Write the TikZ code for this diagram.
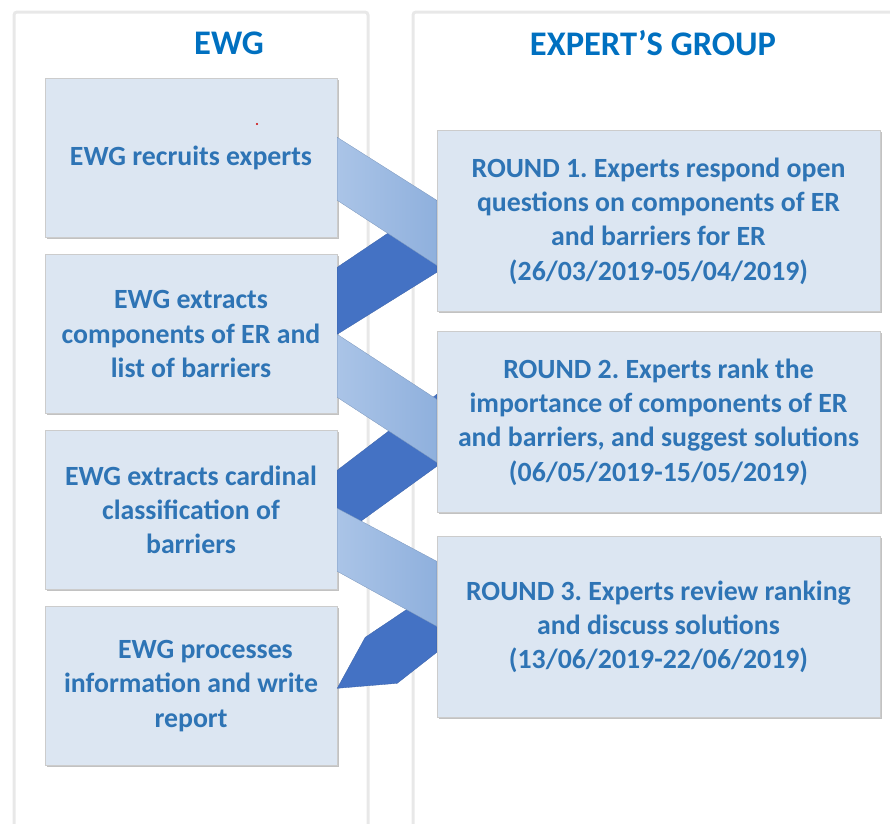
\documentclass[tikz,border=0pt]{standalone}
\usepackage{fontspec}
\setmainfont{Carlito}
\frenchspacing
\usetikzlibrary{positioning,shadows,calc}
\definecolor{boxfill}{HTML}{DCE6F2}
\definecolor{boxtext}{HTML}{2E74B5}
\definecolor{headtext}{HTML}{0070C0}
\definecolor{ribbonlight}{HTML}{AAC4E7}
\definecolor{ribbonlightdk}{HTML}{8FB0DD}
\definecolor{ribbondark}{HTML}{4472C4}
\definecolor{panelline}{HTML}{E8E8E8}
\begin{document}
\begin{tikzpicture}[x=1pt,y=-1pt,
  panel/.style={draw=panelline,line width=3pt,rounded corners=3pt},
  header/.style={text=headtext,font=\bfseries\fontsize{34.5}{40}\selectfont},
  stage/.style={draw=gray!40,fill=boxfill,text=boxtext,align=center,inner sep=0pt,
    font=\bfseries\fontsize{27.8}{34.3}\selectfont,
    drop shadow={shadow xshift=1.5pt,shadow yshift=-1.5pt,fill=gray!80,opacity=0.6}},
  ewgbox/.style={stage,minimum width=292pt,minimum height=159pt},
  roundbox/.style={stage,minimum width=443pt,minimum height=181pt},
  lightband/.style={left color=ribbonlight,right color=ribbonlightdk,draw=ribbonlightdk!85!black,line width=0.3pt},
  darkband/.style={fill=ribbondark,draw=ribbondark!85!black,line width=0.3pt}]
\useasboundingbox (0,0) rectangle (890,823);
% panels
\draw[panel] (14,12) rectangle (368,840);
\draw[panel] (413,12) rectangle (910,840);
\node[header] (ewghead) at (229,43) {EWG};
\node[header] (exphead) at (653,43) {EXPERT’S GROUP};
% EWG column
\node[ewgbox] (l1) at (191,158) {EWG recruits experts};
\node[ewgbox] (l2) at (191,334) {EWG extracts\\components of ER and\\list of barriers};
\node[ewgbox] (l3) at (191,510) {EWG extracts cardinal\\classification of\\barriers};
\node[ewgbox] (l4) at (191,686) {\hspace*{29pt}EWG processes\\information and write\\report};
\fill[red!80!black] (257,124) circle (1.2pt);
% expert rounds
\node[roundbox] (r1) at (658.5,221) {ROUND 1. Experts respond open\\questions on components of ER\\and barriers for ER\\(26/03/2019-05/04/2019)};
\node[roundbox] (r2) at (658.5,422) {ROUND 2. Experts rank the\\importance of components of ER\\and barriers, and suggest solutions\\(06/05/2019-15/05/2019)};
\node[roundbox] (r3) at (658.5,627) {ROUND 3. Experts review ranking\\and discuss solutions\\(13/06/2019-22/06/2019)};
% ribbons back to EWG
\draw[darkband] ([yshift=-13pt]l2.north east) -- ([yshift=-70pt]r1.north west) -- ([yshift=-142pt]r1.north west) -- ([yshift=-80pt]l2.north east) -- cycle;
\draw[darkband] ([yshift=-40pt]l3.north east) -- ([yshift=-63pt]r2.north west) -- ([yshift=-135pt]r2.north west) -- ([yshift=-108pt]l3.north east) -- cycle;
\draw[darkband] ([yshift=-53pt]r3.north west) -- ($(l4.north east)+(28,31)$) -- ([yshift=-82pt]l4.north east) -- ($(l4.north east)+(60,77)$) -- ([yshift=-116pt]r3.north west) -- cycle;
% ribbons to experts
\draw[lightband] ([yshift=-59pt]l1.north east) -- ([yshift=-70pt]r1.north west) -- ([yshift=-135pt]r1.north west) -- ([yshift=-122pt]l1.north east) -- cycle;
\draw[lightband] ([yshift=-80pt]l2.north east) -- ([yshift=-68pt]r2.north west) -- ([yshift=-131pt]r2.north west) -- ([yshift=-143pt]l2.north east) -- cycle;
\draw[lightband] ([yshift=-78pt]l3.north east) -- ([yshift=-25pt]r3.north west) -- ([yshift=-90pt]r3.north west) -- ([yshift=-141pt]l3.north east) -- cycle;
\end{tikzpicture}
\end{document}
